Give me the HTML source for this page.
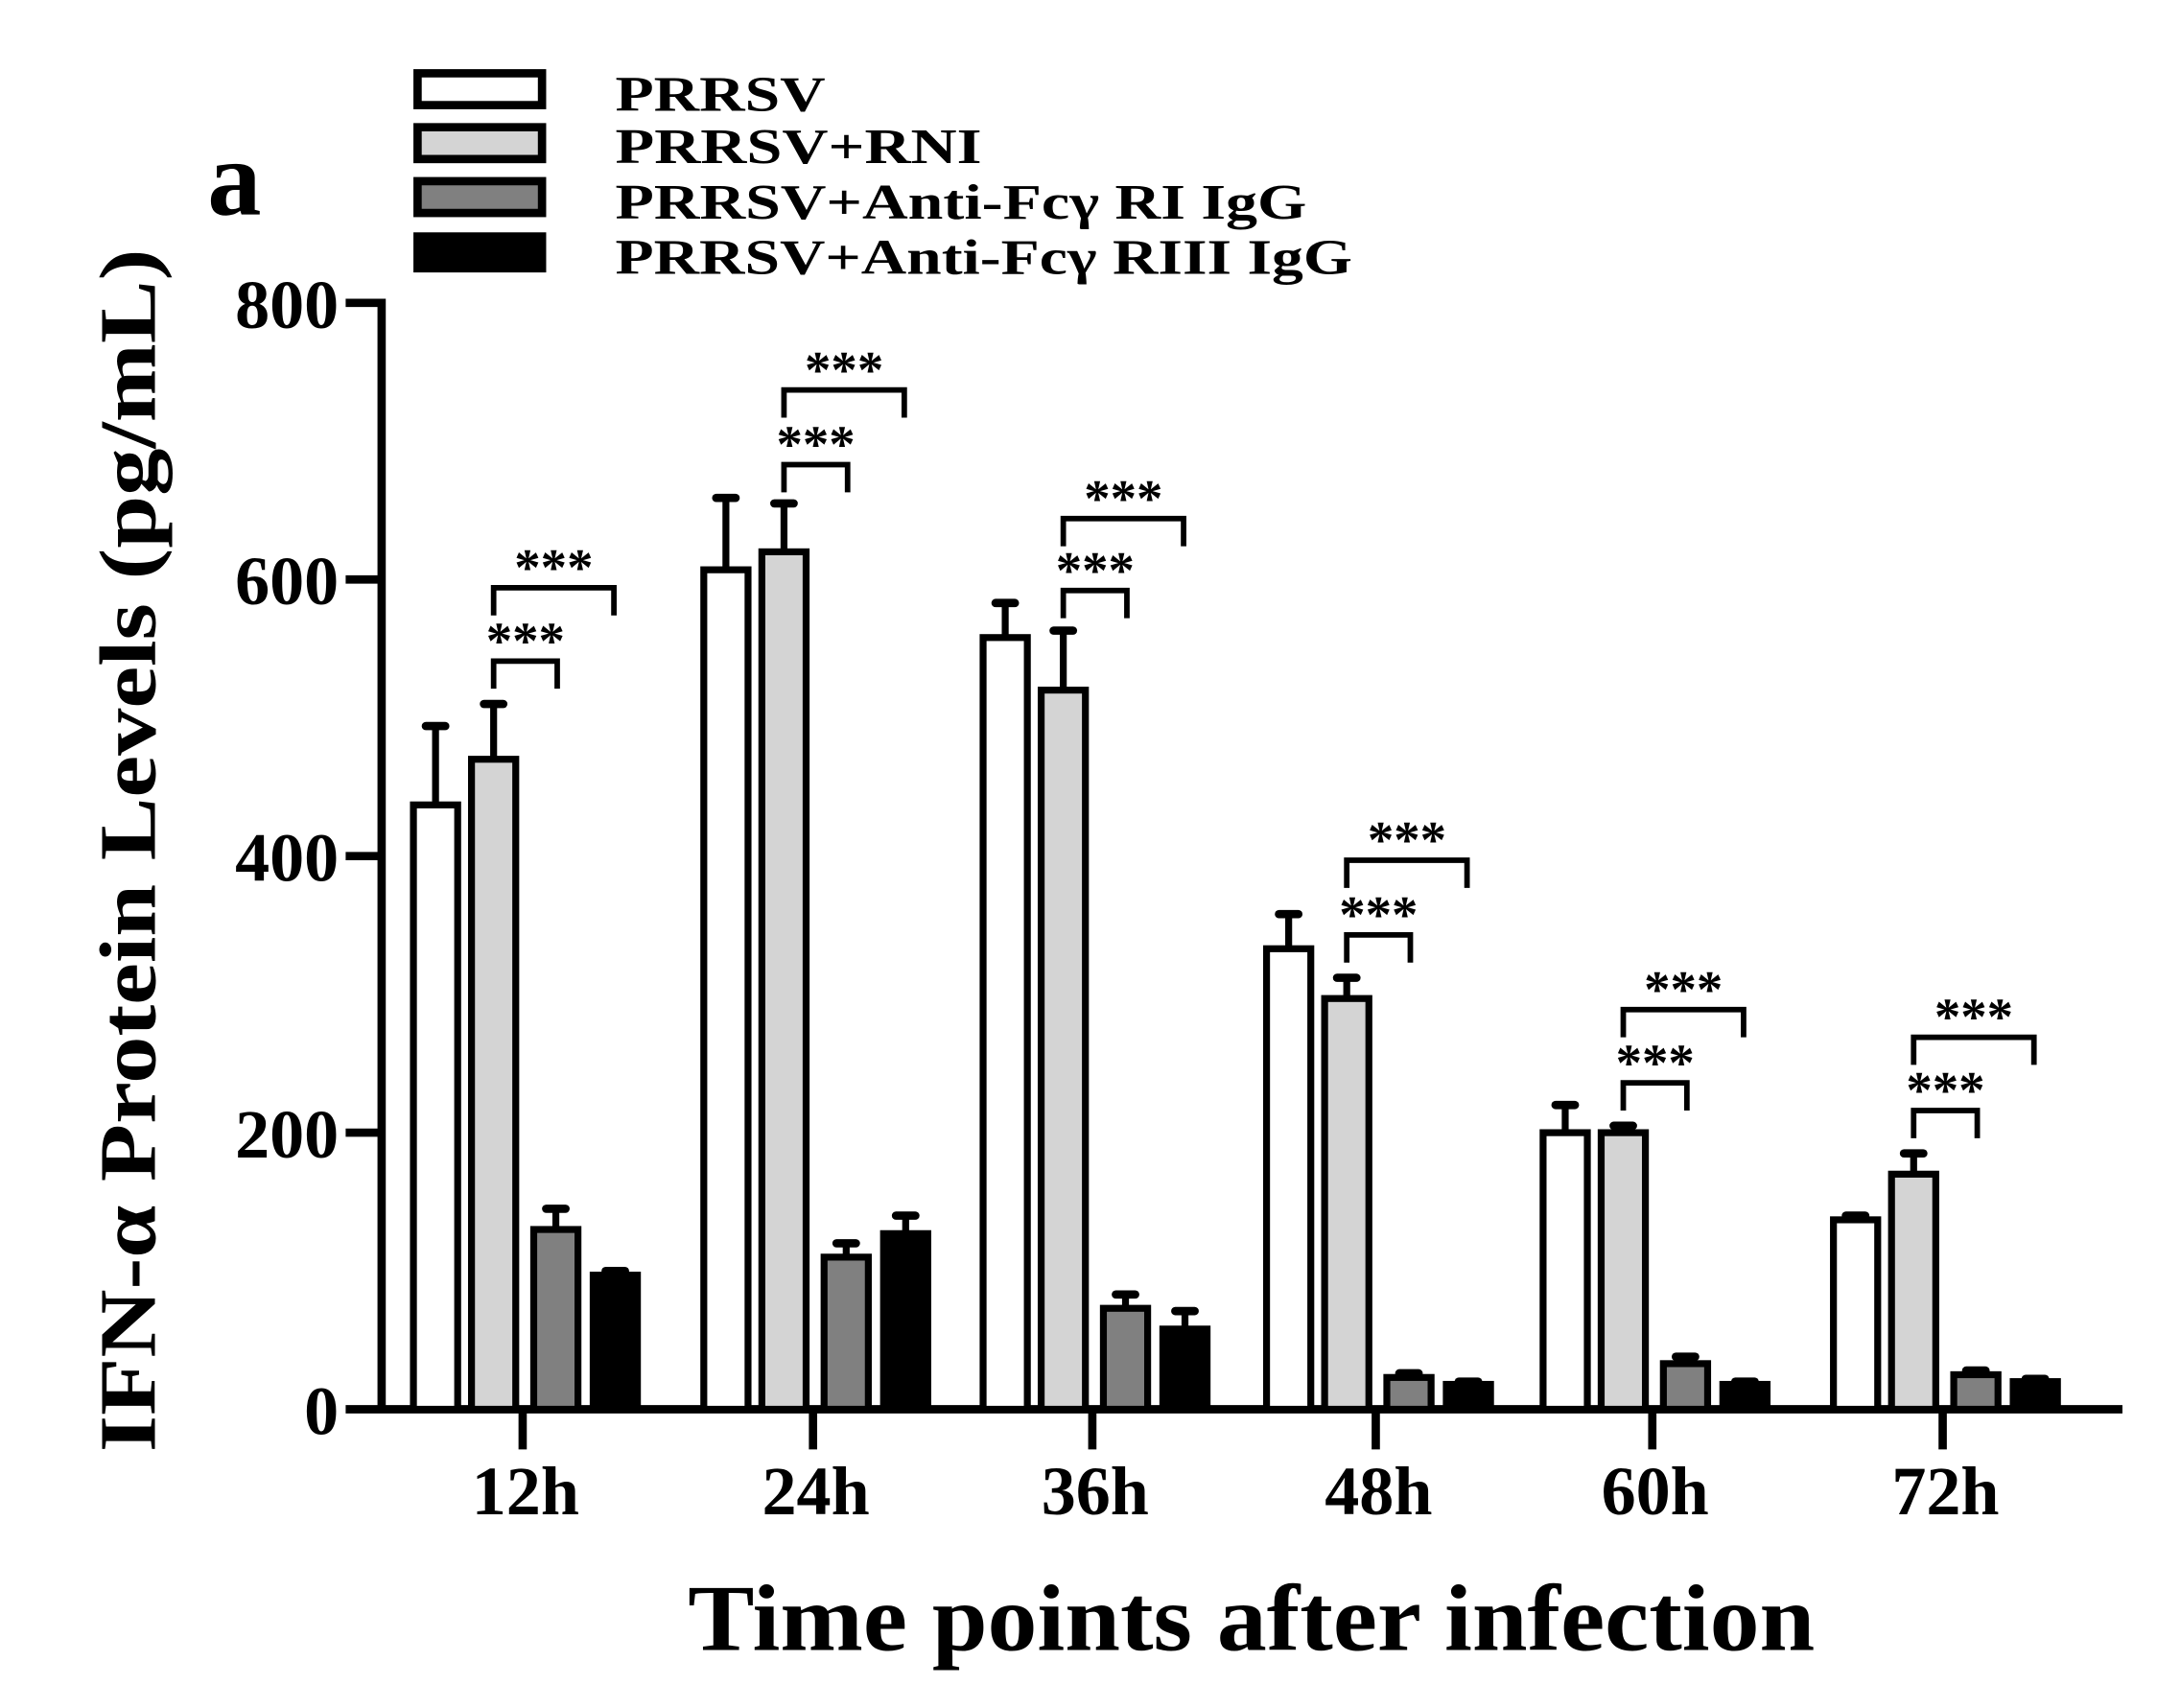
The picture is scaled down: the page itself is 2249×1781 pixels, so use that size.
<!DOCTYPE html>
<html><head><meta charset="utf-8"><style>
html,body{margin:0;padding:0;background:#fff;}
svg{display:block;}
text{font-family:"Liberation Serif",serif;font-weight:bold;fill:#000;}
</style></head><body>
<svg id="s" width="2249" height="1781" viewBox="0 0 1560 1235" preserveAspectRatio="none" xmlns="http://www.w3.org/2000/svg">
<rect width="1560" height="1235" fill="#fff"/>
<text x="150" y="155" font-size="78">a</text>
<g stroke="#000" stroke-width="6">
<rect x="302" y="53" width="90" height="23" fill="#fff"/>
<rect x="302" y="92" width="90" height="23" fill="#d4d4d4"/>
<rect x="302" y="131" width="90" height="23" fill="#808080"/>
<rect x="302" y="171" width="90" height="23" fill="#000"/>
</g>
<text x="445" y="80" font-size="36" textLength="152" lengthAdjust="spacingAndGlyphs">PRRSV</text>
<text x="445" y="118" font-size="36" textLength="265" lengthAdjust="spacingAndGlyphs">PRRSV+RNI</text>
<text x="445" y="158" font-size="36" textLength="500" lengthAdjust="spacingAndGlyphs">PRRSV+Anti-Fcγ  RI IgG</text>
<text x="445" y="198" font-size="36" textLength="533" lengthAdjust="spacingAndGlyphs">PRRSV+Anti-Fcγ  RIII IgG</text>
<g stroke="#000" stroke-width="6">
<line x1="276" y1="216" x2="276" y2="1021"/>
<line x1="250" y1="219" x2="276" y2="219"/>
<line x1="250" y1="419" x2="276" y2="419"/>
<line x1="250" y1="619" x2="276" y2="619"/>
<line x1="250" y1="819" x2="276" y2="819"/>
<line x1="250" y1="1019" x2="1535" y2="1019"/>
</g>
<g font-size="50" text-anchor="end">
<text x="245" y="237">800</text><text x="245" y="437">600</text><text x="245" y="637">400</text><text x="245" y="837">200</text><text x="245" y="1037">0</text>
</g>
<text transform="translate(112,615) rotate(-90)" font-size="58" text-anchor="middle" textLength="870" lengthAdjust="spacingAndGlyphs">IFN-α Protein Levels (pg/mL)</text>
<text x="905" y="1193" font-size="68" text-anchor="middle" textLength="815" lengthAdjust="spacingAndGlyphs">Time points after infection</text>
<g id="g"></g>
</svg>
<script>
var ticks=[378,588,790,995,1195,1405],labels=["12h","24h","36h","48h","60h","72h"];
var vals=[[437,57,470,40,130,15,97,3],[607,52,620,35,110,10,127,13],[558,25,520,43,73,10,58,13],[333,25,297,15,23,3,18,2],[200,20,200,5,33,5,18,2],[137,3,170,15,25,3,20,2]];
var br=[[478,425],[336,282],[427,375],[676,622],[783,730],[803,750]];
var off=[-63,-21,24,67],fills=["#fff","#d4d4d4","#808080","#000"];
var h="";function Y(v){return 1019-v;}
for(var i=0;i<6;i++){var t=ticks[i];
h+='<line x1="'+t+'" y1="1019" x2="'+t+'" y2="1048" stroke="#000" stroke-width="6"/>';
h+='<text x="'+(t+2)+'" y="1095" font-size="50" text-anchor="middle">'+labels[i]+'</text>';
for(var k=0;k<4;k++){var cx=t+off[k],v=vals[i][2*k],e=vals[i][2*k+1];
h+='<line x1="'+cx+'" y1="'+Y(v)+'" x2="'+cx+'" y2="'+Y(v+e)+'" stroke="#000" stroke-width="5"/>';
h+='<line x1="'+(cx-7)+'" y1="'+Y(v+e)+'" x2="'+(cx+7)+'" y2="'+Y(v+e)+'" stroke="#000" stroke-width="6" stroke-linecap="round"/>';
h+='<rect x="'+(cx-16)+'" y="'+Y(v)+'" width="32" height="'+v+'" fill="'+fills[k]+'" stroke="#000" stroke-width="5"/>';}
var a=t+off[1],b=t+off[2]+1,c=t+off[3]-1,s=br[i][0],l=br[i][1];
h+='<path d="M'+a+' '+(s+20)+'V'+s+'H'+b+'V'+(s+20)+'" fill="none" stroke="#000" stroke-width="4"/>';
h+='<text x="'+((a+b)/2)+'" y="'+(s-2)+'" font-family="Liberation Sans" font-size="38" text-anchor="middle">***</text>';
h+='<path d="M'+a+' '+(l+20)+'V'+l+'H'+c+'V'+(l+20)+'" fill="none" stroke="#000" stroke-width="4"/>';
h+='<text x="'+((a+c)/2)+'" y="'+(l-2)+'" font-family="Liberation Sans" font-size="38" text-anchor="middle">***</text>';}
document.getElementById("g").innerHTML=h;
</script>
</body></html>
